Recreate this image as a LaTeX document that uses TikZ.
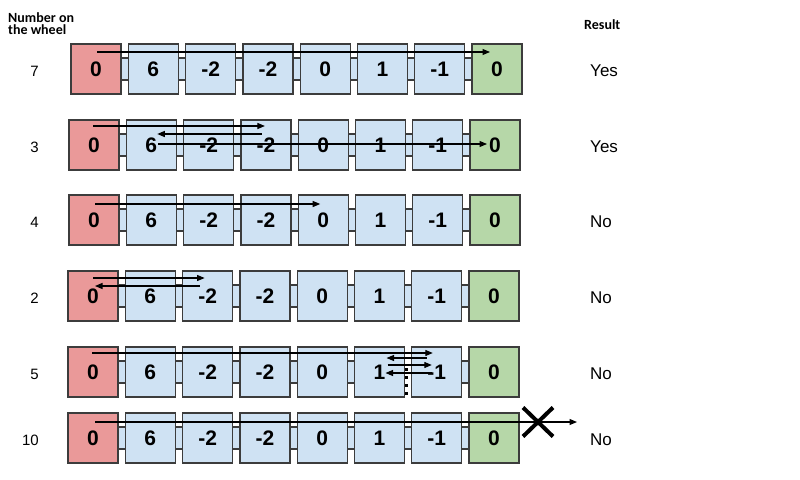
\documentclass[tikz,border=0pt]{standalone}
\usepackage{fontspec}
\setmainfont{Liberation Sans}
\newfontfamily\headfont{Carlito}
\usetikzlibrary{arrows.meta, backgrounds, calc}
\definecolor{cellred}{HTML}{EA9999}
\definecolor{cellblue}{HTML}{CFE2F3}
\definecolor{cellgreen}{HTML}{B6D7A8}
\definecolor{cellline}{HTML}{3C3C3C}

\tikzset{
  cell/.style={draw=cellline, line width=1.2pt, minimum width=50pt, minimum height=50pt,
    inner sep=0pt, font=\fontsize{21}{21}\selectfont\bfseries},
  redcell/.style={cell, fill=cellred},
  bluecell/.style={cell, fill=cellblue},
  greencell/.style={cell, fill=cellgreen},
  link/.style={draw=cellline, line width=1.2pt, fill=cellblue},
  hop/.style={-{Triangle[length=7.5pt,width=6pt]}, line width=1.1pt},
  dots/.style={line width=2.5pt, dash pattern=on 3pt off 5pt},
  head/.style={font=\headfont\bfseries\fontsize{14}{12}\selectfont, inner sep=0pt},
  wheelno/.style={font=\fontsize{15}{15}\selectfont, inner sep=0pt},
  answer/.style={font=\fontsize{17}{17}\selectfont, inner sep=0pt},
}

\begin{document}
\begin{tikzpicture}[x=1pt, y=-1pt]
  \useasboundingbox (0,0) rectangle (800,479);

  % headers
  \node[head, align=left, anchor=north west] (hwheel) at (8,12) {Number on\\the wheel};
  \node[head, anchor=base west] (hresult) at (584,29) {Result};

  % rows of cells
  \foreach \r/\xo/\yo/\n/\res in {1/96/69/7/Yes, 2/94/145/3/Yes, 3/94/220/4/No,
      4/93/296/2/No, 5/93/372/5/No, 6/93/438/10/No} {
    \node[redcell] (b\r-0) at (\xo,\yo) {0};
    \foreach \v [count=\i] in {6,-2,-2,0,1,-1}
      \node[bluecell] (b\r-\i) at (\xo+57.3*\i,\yo) {\v};
    \node[greencell] (b\r-7) at (\xo+401,\yo) {0};
    % links behind the cells
    \begin{scope}[on background layer]
      \foreach \i in {0,...,6} {
        \pgfmathtruncatemacro\j{\i+1}
        \ifnum\r\i=55 \else
          \path[link] ([yshift=11pt]b\r-\i.center) rectangle ([yshift=-11pt]b\r-\j.center);
        \fi
      }
    \end{scope}
    \node[wheelno, anchor=base east] (n\r) at (39,\yo+7) {\n};
    \node[answer, anchor=base west] (a\r) at (590,\yo+7) {\res};
  }

  % 7
  \draw[hop] ([xshift=1pt,yshift=17pt]b1-0.center) -- ([xshift=-7pt,yshift=17pt]b1-7.center);

  % 3
  \draw[hop] ([xshift=-1pt,yshift=19pt]b2-0.center) -- ([xshift=-1pt,yshift=19pt]b2-3.center);
  \draw[hop] ([xshift=-4pt,yshift=11pt]b2-3.center) -- ([xshift=6pt,yshift=11pt]b2-1.center);
  \draw[hop] ([xshift=7pt,yshift=1pt]b2-1.center) -- ([xshift=-8pt,yshift=1pt]b2-7.center);

  % 4
  \draw[hop] ([xshift=1pt,yshift=16pt]b3-0.center) -- ([xshift=-3pt,yshift=16pt]b3-4.center);

  % 2
  \draw[hop] ([yshift=18pt]b4-0.center) -- ([xshift=-3pt,yshift=18pt]b4-2.center);
  \draw[hop] ([xshift=-8pt,yshift=10pt]b4-2.center) -- ([xshift=2pt,yshift=10pt]b4-0.center);

  % 5
  \draw[hop] ([xshift=-1pt,yshift=19pt]b5-0.center) -- ([xshift=-4pt,yshift=19pt]b5-6.center);
  \draw[hop] ([xshift=-10pt,yshift=14pt]b5-6.center) -- ([xshift=7pt,yshift=14pt]b5-5.center);
  \draw[hop] ([xshift=8pt,yshift=7pt]b5-5.center) -- ([xshift=-5pt,yshift=7pt]b5-6.center);
  \draw[hop] ([xshift=-5pt,yshift=-1pt]b5-6.center) -- ([xshift=6pt,yshift=-1pt]b5-5.center);
  \draw[dots] ([xshift=27pt,yshift=4pt]b5-5.center) -- ([xshift=27pt,yshift=-25pt]b5-5.center);

  % 10
  \coordinate (out) at ([xshift=83pt,yshift=16pt]b6-7.center);
  \coordinate (miss) at ([xshift=44pt,yshift=16pt]b6-7.center);
  \draw[hop] ([xshift=2pt,yshift=16pt]b6-0.center) -- (out);
  \draw[line width=4pt] ($(miss)+(-15,-14.5)$) -- ($(miss)+(15,14.5)$);
  \draw[line width=4pt] ($(miss)+(-15,14.5)$) -- ($(miss)+(15,-14.5)$);
\end{tikzpicture}
\end{document}
